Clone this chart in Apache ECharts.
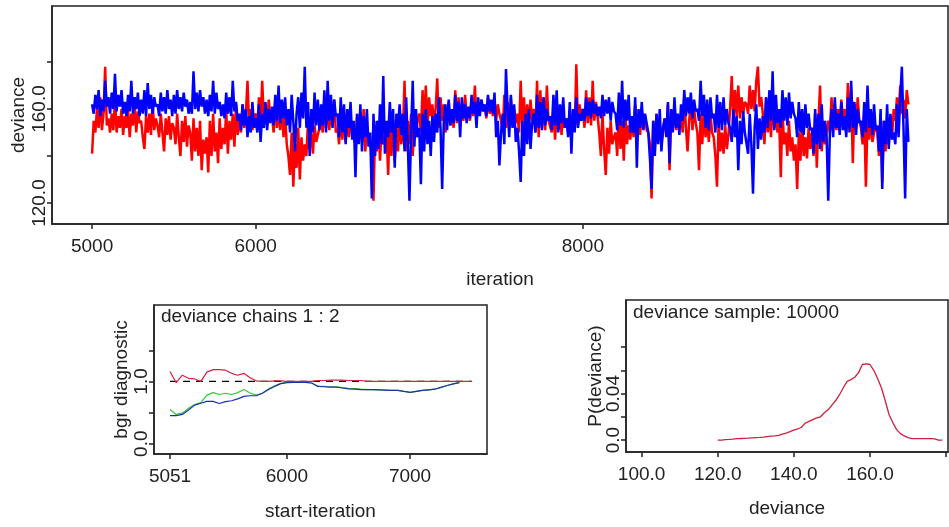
<!DOCTYPE html>
<html>
<head>
<meta charset="utf-8">
<script src="https://cdn.jsdelivr.net/npm/echarts@6/dist/echarts.min.js"></script>
<style>
html,body{margin:0;padding:0;background:#fff;}
#c{width:949px;height:527px;}
</style>
</head>
<body>
<div id="c"></div>
<script>
// ---- Trace plot data (every 10th iteration, 5000..9990) ----
const traceIterStart = 5000;
const traceIterStep = 10;
const chainRed = [
141,155,150,160,152,165,151,158,178,153,
156,150,158,151,165,150,157,152,160,149,
157,152,160,148,158,153,162,150,159,154,
155,148,143,157,150,158,149,163,151,156,
153,148,158,150,142,156,149,157,147,154,
152,145,158,148,140,155,146,157,144,153,
150,138,156,142,152,140,155,134,147,141,
148,133,155,140,158,142,150,137,156,143,
152,145,160,141,155,147,158,144,162,149,
156,150,162,152,158,172,153,160,151,157,
158,152,165,154,172,155,162,153,164,156,
157,150,165,152,160,151,163,148,158,145,
140,132,150,127,145,135,152,130,148,138,
145,140,155,143,150,141,153,146,149,152,
155,150,165,152,162,151,160,153,164,150,
152,145,160,147,158,146,157,148,155,150,
150,145,158,147,155,146,160,142,152,148,
145,140,121,150,142,155,138,152,145,148,
150,132,158,140,155,138,152,142,156,145,
150,172,142,155,145,158,140,153,148,156,
158,150,168,155,170,152,165,157,162,154,
160,173,152,165,155,162,150,158,163,153,
158,152,168,154,165,153,162,155,166,157,
160,155,165,157,170,156,163,158,164,159,
161,156,165,158,163,157,164,155,162,158,
155,150,166,152,163,151,165,153,160,154,
158,150,172,152,165,151,162,153,164,155,
160,150,172,148,168,152,165,151,170,155,
155,150,160,147,158,151,157,149,159,152,
156,150,160,152,158,151,179,153,162,155,
160,152,168,154,165,153,172,155,163,157,
150,140,158,143,132,152,141,155,145,148,
150,140,160,143,155,138,158,145,153,147,
155,148,162,150,158,149,160,152,157,151,
150,145,122,155,143,158,147,152,145,150,
156,150,162,134,158,152,160,151,157,153,
158,150,165,152,142,155,163,151,160,154,
150,134,158,145,160,148,155,146,158,150,
148,140,127,155,142,150,141,153,143,149,
160,174,155,168,157,170,156,165,158,163,
162,158,170,160,168,159,172,178,161,165,
158,145,165,150,160,148,163,152,157,150,
155,131,160,145,150,140,155,142,148,138,
145,126,150,138,155,140,148,139,152,143,
150,140,158,135,155,170,142,153,145,150,
155,150,165,152,162,151,160,153,164,155,
160,150,171,152,168,137,162,153,165,155,
152,145,158,127,155,147,156,146,150,153,
150,140,158,129,155,142,153,145,157,148,
160,155,165,157,170,158,164,156,168,162
];
const chainBlue = [
162,158,166,160,168,157,164,159,172,161,
165,158,167,160,175,159,166,161,168,158,
163,157,166,159,172,158,165,160,167,157,
164,158,168,157,171,160,166,158,165,161,
162,157,167,159,165,158,168,160,164,157,
166,158,168,160,165,159,167,161,164,158,
163,158,176,160,167,159,168,161,165,158,
164,157,166,159,172,158,167,160,163,157,
162,156,167,158,165,157,172,159,163,155,
158,151,162,153,160,148,157,150,163,152,
156,150,162,146,158,152,163,151,160,154,
161,153,166,155,170,154,164,156,165,153,
160,150,166,155,142,158,165,152,167,156,
178,152,163,140,160,150,167,153,164,151,
162,153,168,150,172,155,166,152,164,157,
158,148,165,150,162,145,160,152,163,147,
155,131,158,145,162,142,157,148,160,144,
150,122,158,140,155,143,162,145,174,141,
155,148,163,150,160,135,158,152,162,149,
158,142,165,145,121,150,172,144,160,148,
152,128,158,142,160,145,155,140,157,146,
158,150,165,152,126,155,162,151,164,153,
160,154,166,155,163,148,165,156,162,154,
161,156,166,158,163,152,165,157,164,159,
162,157,166,159,164,158,167,148,155,136,
150,158,145,177,160,148,166,152,162,146,
152,142,129,155,140,158,145,160,143,154,
158,150,166,152,163,151,165,153,160,155,
157,151,166,153,168,150,162,154,165,152,
156,148,163,141,160,150,165,152,158,155,
160,155,165,157,163,156,164,158,162,157,
161,156,166,157,164,158,165,155,163,159,
158,151,167,153,172,152,164,155,166,150,
157,150,165,135,160,152,163,151,158,154,
150,139,126,155,140,158,145,160,142,152,
156,148,163,137,160,150,165,152,158,149,
162,155,168,157,165,158,167,156,164,159,
160,155,172,157,166,152,164,151,165,156,
158,150,166,152,163,151,165,153,160,154,
152,146,160,148,157,134,155,145,159,150,
150,141,158,145,124,152,162,143,156,147,
157,150,165,152,168,155,176,151,166,154,
160,152,168,155,165,153,167,156,163,158,
156,148,163,150,160,149,162,152,158,151,
152,141,160,145,158,143,162,146,155,148,
121,150,160,148,165,152,158,149,163,151,
157,148,165,150,172,152,163,149,160,154,
155,148,163,150,170,152,160,149,162,151,
153,142,160,126,155,145,162,143,158,147,
150,145,162,148,165,178,152,122,160,146
];
const traceXTicks = [5000, 6000, 8000];
const traceYTicks = [120, 140, 160, 180];
const traceYLabels = [120, 160];

// ---- BGR diagnostic ----
const bgrIter = [5051,5101,5151,5201,5251,5301,5351,5401,5451,5501,5551,5601,5651,5701,5751,5801,5851,5901,5951,6001,6051,6101,6151,6201,6251,6301,6351,6401,6451,6501,6551,6601,6651,6701,6751,6801,6851,6901,6951,7001,7051,7101,7151,7201,7251,7301,7351,7401,7451,7501];
const bgrRatio = [1.16,0.98,1.10,1.05,1.04,1.00,1.15,1.19,1.19,1.18,1.13,1.10,1.13,1.06,1.01,1.00,1.00,1.01,1.01,1.00,1.00,1.00,1.00,1.00,1.015,1.015,1.02,1.02,1.02,1.015,1.015,1.015,1.00,1.00,1.00,1.00,1.00,1.00,1.00,1.00,1.00,1.00,1.00,1.00,1.00,1.00,1.00,1.00,1.00,1.00];
const bgrPooled = [0.55,0.47,0.49,0.57,0.63,0.66,0.78,0.82,0.79,0.81,0.79,0.82,0.87,0.815,0.78,0.81,0.88,0.93,0.97,0.985,0.985,0.985,0.985,0.975,0.925,0.92,0.915,0.915,0.90,0.89,0.885,0.875,0.87,0.867,0.865,0.862,0.858,0.856,0.84,0.825,0.84,0.855,0.865,0.875,0.905,0.935,0.96,0.98,null,null];
const bgrWithin = [0.45,0.45,0.47,0.54,0.62,0.65,0.68,0.68,0.645,0.675,0.69,0.72,0.76,0.77,0.77,0.81,0.87,0.92,0.965,0.98,0.984,0.984,0.984,0.975,0.92,0.915,0.91,0.91,0.895,0.88,0.875,0.867,0.867,0.867,0.865,0.862,0.858,0.856,0.84,0.825,0.84,0.855,0.865,0.875,0.905,0.935,0.96,0.98,null,null];
const bgrXTicks = [5051, 6000, 7000];
const bgrYTicks = [0, 0.5, 1.0, 1.5];
const bgrYLabels = [0, 1.0];

// ---- Density ----
const densX = [120,121,122,123,124,125,126,127,128,129,130,131,132,133,134,135,136,137,138,139,140,141,142,143,144,145,146,147,148,149,150,151,152,153,154,155,156,157,158,159,160,161,162,163,164,165,166,167,168,169,170,171,172,173,174,175,176,177,178,179];
const densY = [0.0,0.0,0.0003,0.0005,0.0008,0.0012,0.0013,0.0015,0.0016,0.0018,0.002,0.0022,0.0025,0.003,0.0034,0.0036,0.004,0.005,0.006,0.0072,0.0085,0.0095,0.011,0.0145,0.016,0.0175,0.019,0.020,0.0235,0.026,0.030,0.034,0.039,0.045,0.0505,0.052,0.054,0.058,0.065,0.0655,0.065,0.060,0.053,0.045,0.034,0.022,0.015,0.009,0.0055,0.0035,0.002,0.0012,0.0012,0.0012,0.0012,0.0012,0.0012,0.001,0.0,0.0];
const densXTicks = [100, 120, 140, 160, 180];
const densXLabels = [100, 120, 140, 160];
const densYTicks = [0, 0.02, 0.04, 0.06, 0.08];
const densYLabels = [0, 0.04];

// ---- build ----
const redPts = chainRed.map((v, i) => [traceIterStart + i * traceIterStep, v]);
const bluePts = chainBlue.map((v, i) => [traceIterStart + i * traceIterStep, v]);
const zip = (xs, ys) => xs.map((x, i) => [x, ys[i]]);

const FONT = "'Liberation Sans', Arial, sans-serif";
const TXT = '#222';
const lineC = '#222';
const fs = 19;

function xAx(gi, min, max, ticks, labels, fmt, name, nameGap) {
  return {
    type: 'value', gridIndex: gi, min: min, max: max,
    splitLine: {show: false},
    axisLine: {show: true, onZero: false, lineStyle: {color: lineC, width: 1.5}},
    axisTick: {show: true, inside: false, length: 5, customValues: ticks, lineStyle: {color: lineC, width: 1.5}},
    axisLabel: {show: true, customValues: labels, formatter: fmt, margin: 13, color: TXT, fontSize: fs, fontFamily: FONT},
    name: name, nameLocation: 'middle', nameGap: nameGap, nameMoveOverlap: false,
    nameTextStyle: {color: TXT, fontSize: fs, fontFamily: FONT}
  };
}
function yAx(gi, min, max, ticks, labels, fmt, name, nameGap) {
  return {
    type: 'value', gridIndex: gi, min: min, max: max,
    splitLine: {show: false},
    axisLine: {show: true, onZero: false, lineStyle: {color: lineC, width: 1.5}},
    axisTick: {show: true, inside: false, length: 5, customValues: ticks, lineStyle: {color: lineC, width: 1.5}},
    axisLabel: {show: true, customValues: labels, formatter: fmt, rotate: 90, margin: 3, color: TXT, fontSize: fs, fontFamily: FONT},
    name: name, nameLocation: 'middle', nameGap: nameGap, nameMoveOverlap: false,
    nameTextStyle: {color: TXT, fontSize: fs, fontFamily: FONT}
  };
}

const chart = echarts.init(document.getElementById('c'), null, {renderer: 'canvas'});
chart.setOption({
  animation: false,
  backgroundColor: '#fff',
  grid: [
    {left: 52, top: 6, width: 896, height: 218, show: true, borderColor: lineC, borderWidth: 1.5, backgroundColor: '#fff'},
    {left: 154, top: 305, width: 333, height: 149, show: true, borderColor: lineC, borderWidth: 1.5, backgroundColor: '#fff'},
    {left: 626, top: 300, width: 322, height: 152, show: true, borderColor: lineC, borderWidth: 1.5, backgroundColor: '#fff'}
  ],
  xAxis: [
    xAx(0, 4755, 10232, traceXTicks, traceXTicks, v => String(v), 'iteration', 46),
    xAx(1, 4921, 7625, bgrXTicks, bgrXTicks, v => String(v), 'start-iteration', 48),
    xAx(2, 95.9, 180.5, densXTicks, densXLabels, v => v.toFixed(1), 'deviance', 47)
  ],
  yAxis: [
    yAx(0, 111.1, 203.8, traceYTicks, traceYLabels, v => v.toFixed(1), 'deviance', 24),
    yAx(1, -0.165, 2.227, bgrYTicks, bgrYLabels, v => v.toFixed(1), 'bgr diagnostic', 23),
    yAx(2, -0.0103, 0.1205, densYTicks, densYLabels, v => (v === 0 ? '0.0' : String(v)), 'P(deviance)', 21)
  ],
  graphic: [
    {type: 'text', left: 161, top: 307, style: {text: 'deviance chains 1 : 2', fill: TXT, font: fs + 'px ' + FONT}},
    {type: 'text', left: 633, top: 303, style: {text: 'deviance sample: 10000', fill: TXT, font: fs + 'px ' + FONT}}
  ],
  series: [
    {type: 'line', xAxisIndex: 0, yAxisIndex: 0, data: redPts, showSymbol: false, symbol: 'none', sampling: null,
     lineStyle: {color: '#ff0000', width: 2.5}, z: 2},
    {type: 'line', xAxisIndex: 0, yAxisIndex: 0, data: bluePts, showSymbol: false, symbol: 'none', sampling: null,
     lineStyle: {color: '#0000ff', width: 2.5}, z: 3},
    {type: 'line', xAxisIndex: 1, yAxisIndex: 1, data: zip(bgrIter, bgrRatio.map(() => 1.0)), showSymbol: false, symbol: 'none',
     lineStyle: {color: '#000', width: 1.2, type: [7, 6]}, z: 2},
    {type: 'line', xAxisIndex: 1, yAxisIndex: 1, data: zip(bgrIter, bgrPooled), showSymbol: false, symbol: 'none',
     lineStyle: {color: '#33cc33', width: 1.2}, z: 3},
    {type: 'line', xAxisIndex: 1, yAxisIndex: 1, data: zip(bgrIter, bgrWithin), showSymbol: false, symbol: 'none',
     lineStyle: {color: '#1f2fa8', width: 1.2}, z: 4},
    {type: 'line', xAxisIndex: 1, yAxisIndex: 1, data: zip(bgrIter, bgrRatio), showSymbol: false, symbol: 'none',
     lineStyle: {color: '#d8203f', width: 1.2}, z: 5},
    {type: 'line', xAxisIndex: 2, yAxisIndex: 2, data: zip(densX, densY), showSymbol: false, symbol: 'none',
     lineStyle: {color: '#d01f3c', width: 1.3}, z: 3}
  ]
});
</script>
</body>
</html>
